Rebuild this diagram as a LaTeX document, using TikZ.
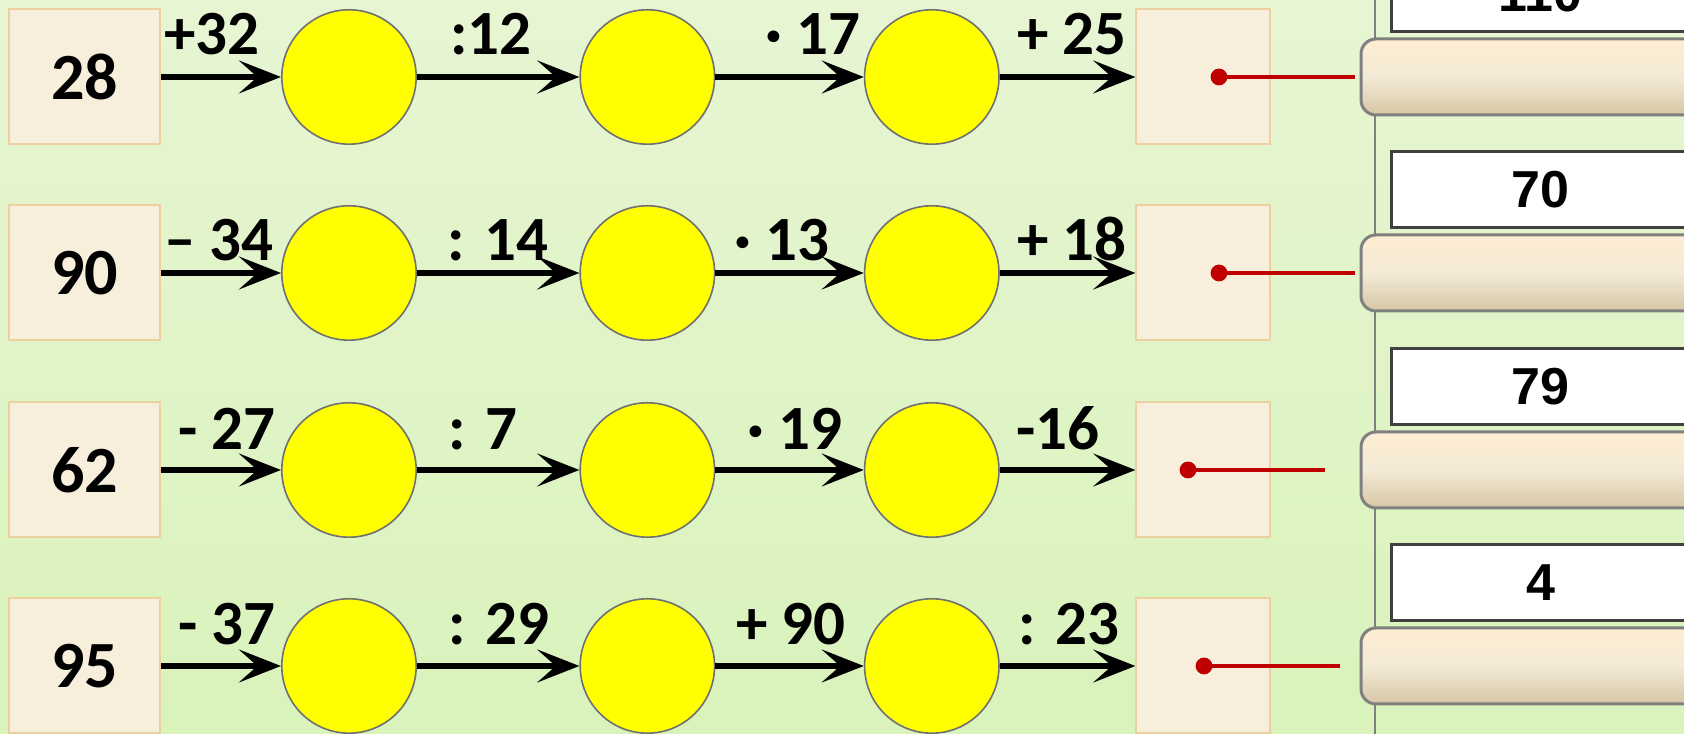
\documentclass[tikz,border=0pt]{standalone}
\usepackage{fontspec}
\setmainfont{Carlito}
\newfontfamily\arialfont{Liberation Sans}
\usepackage{xcolor}
\usetikzlibrary{arrows.meta,positioning}

\definecolor{bgtop}{HTML}{E7F5D3}
\definecolor{bgbot}{HTML}{D9F3BB}
\definecolor{boxfill}{HTML}{F8EEDC}
\definecolor{boxline}{HTML}{EBD19F}
\definecolor{ballline}{HTML}{707070}
\definecolor{ballfill}{HTML}{FFFF00}
\definecolor{dotred}{HTML}{C00000}
\definecolor{bargray}{HTML}{808080}
\definecolor{bartop}{HTML}{FEEDD2}
\definecolor{barmid}{HTML}{F3EAD6}
\definecolor{barbot}{HTML}{D6C6A4}
\definecolor{ansline}{HTML}{404040}

\begin{document}
\begin{tikzpicture}[
  x=0.25pt, y=-0.25pt,
  numbox/.style={draw=boxline, line width=0.5pt, fill=boxfill, minimum width=37.75pt,
                 minimum height=33.75pt, inner sep=0pt, font=\fontsize{16.5}{18}\selectfont\bfseries},
  resbox/.style={numbox, minimum width=33.5pt},
  ball/.style={circle, draw=ballline, line width=0.4pt, fill=ballfill, minimum size=33.6pt, inner sep=0pt},
  arr/.style={-{Stealth[length=10.5pt, width=8.2pt, inset=4.6pt]}, line width=1.5pt},
  oplabel/.style={anchor=base, inner sep=0pt, font=\fontsize{15.75}{18}\selectfont\bfseries},
  reddot/.style={circle, fill=dotred, minimum size=4.2pt, inner sep=0pt},
  wire/.style={draw=dotred, line width=0.9pt},
  slotbar/.style={draw=bargray, line width=0.75pt, rounded corners=3.75pt, top color=bartop,
                  bottom color=barbot, middle color=barmid, minimum width=100pt, minimum height=19pt, anchor=west},
  answer/.style={draw=ansline, line width=0.75pt, fill=white, minimum width=74.75pt, minimum height=19pt,
                 anchor=west, font=\arialfont\fontsize{13}{15}\selectfont\bfseries}
]
  % page and background
  \useasboundingbox (0,0) rectangle (1684,734);
  \clip (0,0) rectangle (1684,734);
  \shade[top color=bgtop, bottom color=bgbot] (0,0) rectangle (1684,734);
  \draw[bargray, line width=0.6pt] (1375,0) -- (1375,734);

  % one chain per row
  \foreach \r/\y/\num/\res/\oa/\ob/\oc/\od/\xa/\xb/\xc/\xd/\ly/\dx/\ex in {
      1/77/28/110/{+32}/{:12}/{· 17}/{+ 25}/212/491/813/1072/22/1219/1355,
      2/273/90/70/{– 34}/{: 14}/{· 13}/{+ 18}/219/498/782/1072/12/1219/1355,
      3/470/62/79/{- 27}/{: 7}/{· 19}/{-16}/227/483/795/1058/20/1188/1325,
      4/666/95/4/{- 37}/{: 29}/{+ 90}/{: 23}/227/499/791/1069/21/1204/1340} {
    \node[numbox] (n\r) at (84.5,\y) {\num};
    \node[ball, right=30pt of n\r] (a\r) {};
    \node[ball, right=40.6pt of a\r] (b\r) {};
    \node[ball, right=37.1pt of b\r] (c\r) {};
    \node[resbox, right=33.9pt of c\r] (res\r) {};

    \draw[arr] (n\r) -- (a\r);
    \draw[arr] (a\r) -- (b\r);
    \draw[arr] (b\r) -- (c\r);
    \draw[arr] (c\r) -- (res\r);

    \node[oplabel] (la\r) at (\xa,\y-\ly) {\oa};
    \node[oplabel] (lb\r) at (\xb,\y-\ly) {\ob};
    \node[oplabel] (lc\r) at (\xc,\y-\ly) {\oc};
    \node[oplabel] (ld\r) at (\xd,\y-\ly) {\od};

    % answer slots on the right
    \node[slotbar] (slot\r) at (1359.5,\y) {};
    \node[answer] (ans\r) at (1389.5,\y-83) {\res};
    \node[reddot] (dot\r) at (\dx,\y) {};
    \coordinate (end\r) at (\ex,\y);
    \draw[wire] (dot\r.center) -- (end\r);
  }
\end{tikzpicture}
\end{document}
